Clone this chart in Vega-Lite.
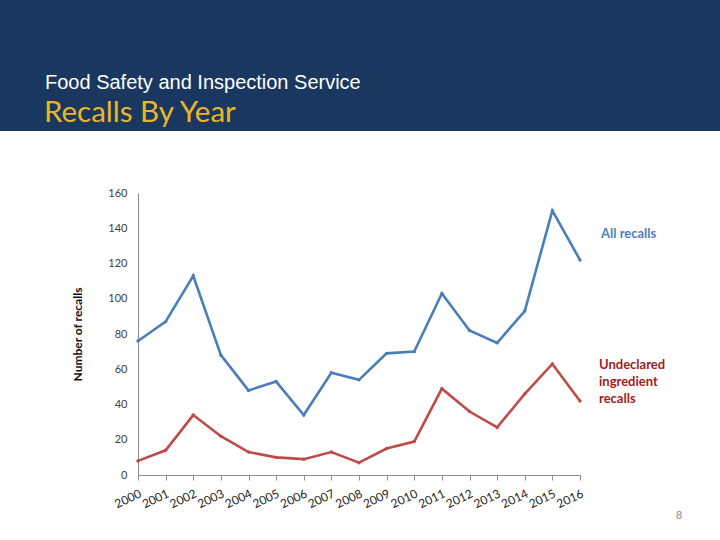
{
  "$schema": "https://vega.github.io/schema/vega-lite/v6.json",
  "width": 442,
  "height": 282,
  "autosize": {"type": "none"},
  "padding": {"left": 138, "top": 193, "right": 140, "bottom": 65},
  "background": "white",
  "config": {"view": {"stroke": null}, "font": "Lato"},
  "datasets": {
    "recalls": [
      {"year": "2000", "series": "All recalls", "count": 76},
      {"year": "2001", "series": "All recalls", "count": 87},
      {"year": "2002", "series": "All recalls", "count": 113},
      {"year": "2003", "series": "All recalls", "count": 68},
      {"year": "2004", "series": "All recalls", "count": 48},
      {"year": "2005", "series": "All recalls", "count": 53},
      {"year": "2006", "series": "All recalls", "count": 34},
      {"year": "2007", "series": "All recalls", "count": 58},
      {"year": "2008", "series": "All recalls", "count": 54},
      {"year": "2009", "series": "All recalls", "count": 69},
      {"year": "2010", "series": "All recalls", "count": 70},
      {"year": "2011", "series": "All recalls", "count": 103},
      {"year": "2012", "series": "All recalls", "count": 82},
      {"year": "2013", "series": "All recalls", "count": 75},
      {"year": "2014", "series": "All recalls", "count": 93},
      {"year": "2015", "series": "All recalls", "count": 150},
      {"year": "2016", "series": "All recalls", "count": 122},
      {"year": "2000", "series": "Undeclared ingredient recalls", "count": 8},
      {"year": "2001", "series": "Undeclared ingredient recalls", "count": 14},
      {"year": "2002", "series": "Undeclared ingredient recalls", "count": 34},
      {"year": "2003", "series": "Undeclared ingredient recalls", "count": 22},
      {"year": "2004", "series": "Undeclared ingredient recalls", "count": 13},
      {"year": "2005", "series": "Undeclared ingredient recalls", "count": 10},
      {"year": "2006", "series": "Undeclared ingredient recalls", "count": 9},
      {"year": "2007", "series": "Undeclared ingredient recalls", "count": 13},
      {"year": "2008", "series": "Undeclared ingredient recalls", "count": 7},
      {"year": "2009", "series": "Undeclared ingredient recalls", "count": 15},
      {"year": "2010", "series": "Undeclared ingredient recalls", "count": 19},
      {"year": "2011", "series": "Undeclared ingredient recalls", "count": 49},
      {"year": "2012", "series": "Undeclared ingredient recalls", "count": 36},
      {"year": "2013", "series": "Undeclared ingredient recalls", "count": 27},
      {"year": "2014", "series": "Undeclared ingredient recalls", "count": 46},
      {"year": "2015", "series": "Undeclared ingredient recalls", "count": 63},
      {"year": "2016", "series": "Undeclared ingredient recalls", "count": 42}
    ]
  },
  "layer": [
    {
      "data": {"values": [{}]},
      "mark": {"type": "rect", "clip": false, "color": "#1a375f"},
      "encoding": {
        "x": {"value": -138},
        "x2": {"value": 582},
        "y": {"value": -193},
        "y2": {"value": -62}
      }
    },
    {
      "data": {"values": [{}]},
      "mark": {"type": "text", "font": "Liberation Sans", "fontSize": 20, "color": "#ffffff", "align": "left", "baseline": "alphabetic", "text": "Food Safety and Inspection Service"},
      "encoding": {"x": {"value": -93}, "y": {"value": -104}}
    },
    {
      "data": {"values": [{}]},
      "mark": {"type": "text", "font": "Lato", "fontSize": 29.5, "color": "#eab628", "align": "left", "baseline": "alphabetic", "text": "Recalls By Year"},
      "encoding": {"x": {"value": -94}, "y": {"value": -71}}
    },
    {
      "data": {"name": "recalls"},
      "mark": {"type": "line", "strokeWidth": 2.6, "point": {"size": 12, "filled": true}},
      "encoding": {
        "x": {
          "field": "year", "type": "ordinal",
          "scale": {"type": "point", "padding": 0},
          "axis": {
            "title": null, "labelAngle": -25, "labelAlign": "right", "labelBaseline": "top",
            "labelPadding": 8, "labelFontSize": 12, "labelColor": "#222222", "labelFont": "Lato",
            "tickSize": 5, "tickColor": "#8c8c8c", "domainColor": "#8c8c8c", "domainWidth": 1, "grid": false
          }
        },
        "y": {
          "field": "count", "type": "quantitative",
          "scale": {"domain": [0, 160], "nice": false},
          "axis": {
            "title": "Number of recalls", "titleFontSize": 12, "titleFontWeight": "bold", "titleColor": "#111111", "titleFont": "Lato",
            "titlePadding": 23, "values": [0, 20, 40, 60, 80, 100, 120, 140, 160],
            "labelFontSize": 11, "labelColor": "#404040", "labelPadding": 11, "labelFont": "Lato",
            "ticks": false, "grid": false, "domainColor": "#8c8c8c", "domainWidth": 1
          }
        },
        "color": {
          "field": "series", "type": "nominal",
          "scale": {"domain": ["All recalls", "Undeclared ingredient recalls"], "range": ["#4a7ebb", "#be4b48"]},
          "legend": null
        }
      }
    },
    {
      "data": {"values": [{}]},
      "mark": {"type": "text", "font": "Lato", "fontSize": 13, "fontWeight": "bold", "color": "#4f7fb8", "align": "left", "baseline": "middle", "text": "All recalls"},
      "encoding": {"x": {"value": 463}, "y": {"value": 41}}
    },
    {
      "data": {"values": [{}]},
      "mark": {"type": "text", "font": "Lato", "fontSize": 13, "fontWeight": "bold", "color": "#9e1b22", "align": "left", "baseline": "top", "lineHeight": 17, "text": ["Undeclared", "ingredient", "recalls"]},
      "encoding": {"x": {"value": 461}, "y": {"value": 166}}
    },
    {
      "data": {"values": [{}]},
      "mark": {"type": "text", "font": "Liberation Sans", "fontSize": 11, "color": "#8a8a8a", "align": "center", "baseline": "middle", "text": "8"},
      "encoding": {"x": {"value": 541}, "y": {"value": 323}}
    }
  ]
}
